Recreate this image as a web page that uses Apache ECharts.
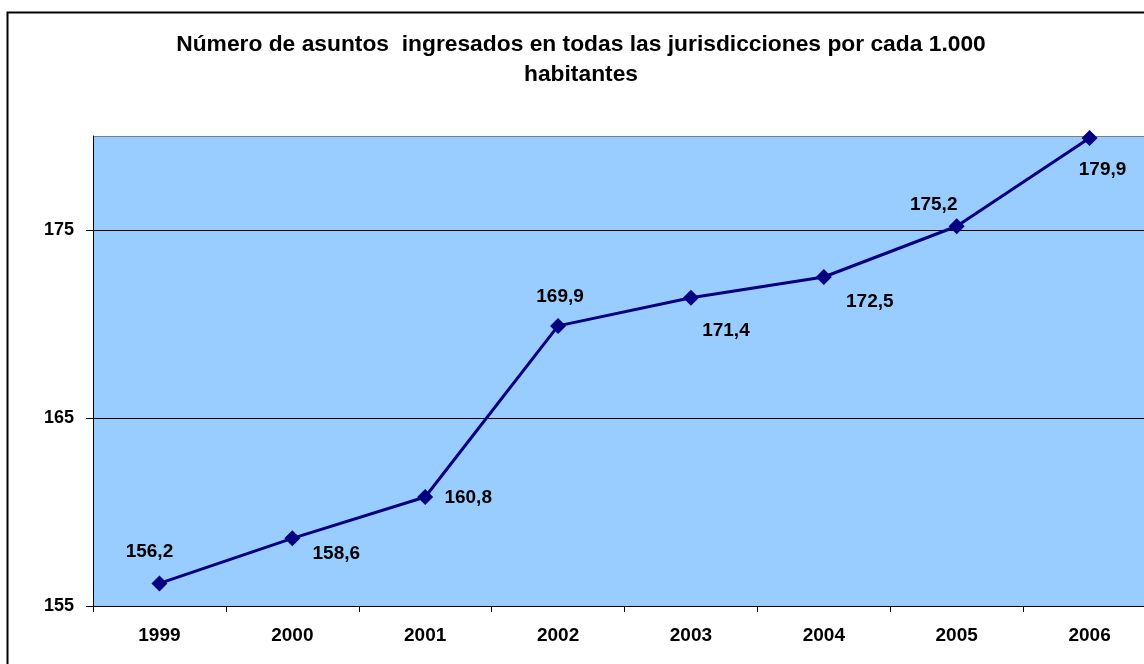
<!DOCTYPE html>
<html>
<head>
<meta charset="utf-8">
<script src="https://cdn.jsdelivr.net/npm/echarts@6/dist/echarts.min.js"></script>
<style>
html,body{margin:0;padding:0;background:#fff;}
#chart{width:1144px;height:664px;}
</style>
</head>
<body>
<div id="chart"></div>
<script>
const titleText = 'Número de asuntos  ingresados en todas las jurisdicciones por cada 1.000\nhabitantes';
const years = ['1999','2000','2001','2002','2003','2004','2005','2006'];
const values = [156.2, 158.6, 160.8, 169.9, 171.4, 172.5, 175.2, 179.9];
const yMin = 155, yMax = 180, yInterval = 10;

// label placement (pixel offsets from each marker), styling only
const labelOffsets = [[-10,-32],[44,15],[43,1],[2,-29],[35,33],[46,25],[-23,-21],[13,32]];

const FONT = '"Liberation Sans", Arial, sans-serif';
const chart = echarts.init(document.getElementById('chart'), null, {renderer:'canvas'});
chart.setOption({
  animation: false,
  backgroundColor: '#ffffff',
  title: {
    text: titleText,
    left: 581, top: 30, padding: 0,
    textAlign: 'center',
    textStyle: {fontFamily: FONT, fontWeight: 'bold', fontSize: 22.8, lineHeight: 30, color: '#000'}
  },
  graphic: [{
    type: 'rect', silent: true, z: -10,
    shape: {x: 7.5, y: 12.5, width: 1300, height: 800},
    style: {fill: 'none', stroke: '#000', lineWidth: 2}
  }],
  grid: {
    left: 93, top: 136, width: 1063, bottom: 58,
    outerBoundsMode: 'none', containLabel: false,
    show: true, backgroundColor: '#99CCFF', borderColor: '#808080', borderWidth: 0
  },
  xAxis: {
    type: 'category', data: years, boundaryGap: true,
    axisLine: {lineStyle: {color: '#000', width: 1}},
    axisTick: {show: true, length: 6, lineStyle: {color: '#000'}},
    axisLabel: {margin: 20, color: '#000', fontFamily: FONT, fontWeight: 'bold', fontSize: 19}
  },
  yAxis: {
    type: 'value', min: yMin, max: yMax, interval: yInterval,
    axisLine: {show: true, lineStyle: {color: '#000', width: 1}},
    axisTick: {show: true, length: 7, lineStyle: {color: '#000'}},
    axisLabel: {margin: 19, showMaxLabel: false, color: '#000', fontFamily: FONT, fontWeight: 'bold', fontSize: 18},
    splitLine: {show: true, lineStyle: {color: ['#000','#000','#000','#808080'], width: 1}}
  },
  series: [{
    type: 'line',
    data: values.map((v, i) => ({
      value: v,
      label: {offset: labelOffsets[i]}
    })),
    symbol: 'diamond', symbolSize: 16,
    lineStyle: {color: '#000080', width: 3},
    itemStyle: {color: '#000080'},
    label: {
      show: true, position: 'inside',
      formatter: p => String(p.value).replace('.', ','),
      color: '#000', fontFamily: FONT, fontWeight: 'bold', fontSize: 19
    }
  }]
});
</script>
</body>
</html>
